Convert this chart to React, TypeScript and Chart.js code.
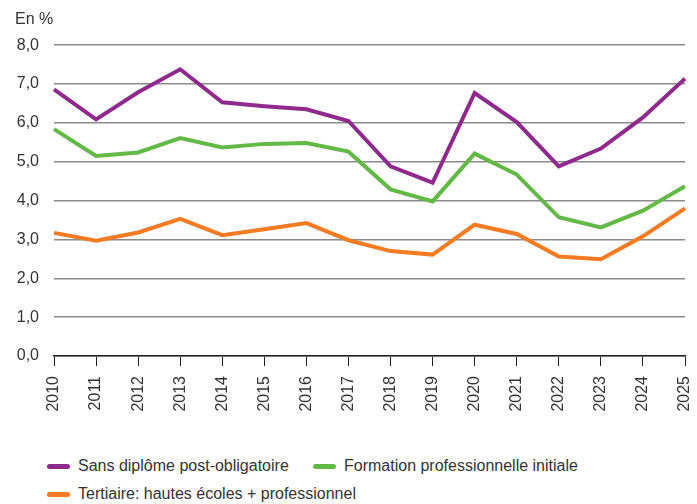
import React, { useEffect, useRef } from "react";
import { Chart, registerables } from "chart.js";

Chart.register(...registerables);

const years = ["2010","2011","2012","2013","2014","2015","2016","2017","2018","2019","2020","2021","2022","2023","2024","2025"];
const sansDiplome = [6.86, 6.09, 6.79, 7.38, 6.53, 6.43, 6.35, 6.05, 4.88, 4.46, 6.77, 6.02, 4.88, 5.34, 6.14, 7.14];
const formationPro = [5.84, 5.15, 5.24, 5.61, 5.37, 5.46, 5.48, 5.26, 4.29, 3.98, 5.21, 4.67, 3.57, 3.31, 3.74, 4.37];
const tertiaire = [3.17, 2.97, 3.18, 3.53, 3.11, 3.26, 3.42, 2.98, 2.70, 2.61, 3.38, 3.14, 2.56, 2.49, 3.08, 3.80];
const seriesLabels = ["Sans diplôme post-obligatoire", "Formation professionnelle initiale", "Tertiaire: hautes écoles + professionnel"];
const seriesColors = ["#8f2a8c", "#62b946", "#f47b21"];
const yTitle = "En %";

const FONT = "'Liberation Sans', Arial, sans-serif";

export default function App() {
  const ref = useRef<HTMLCanvasElement | null>(null);
  useEffect(() => {
    if (!ref.current) return;
    const data = [sansDiplome, formationPro, tertiaire];
    const chart = new Chart(ref.current, {
      type: "line",
      data: {
        labels: years,
        datasets: data.map((d, i) => ({
          label: seriesLabels[i],
          data: d,
          borderColor: seriesColors[i],
          backgroundColor: seriesColors[i],
          borderWidth: 4,
          pointRadius: 0,
          tension: 0,
          borderJoinStyle: "miter" as const,
        })),
      },
      options: {
        animation: false,
        responsive: false,
        maintainAspectRatio: false,
        layout: { padding: { left: 15, right: 12, top: 0, bottom: 0 } },
        plugins: {
          legend: { display: false },
          tooltip: { enabled: false },
          title: {
            display: true,
            text: yTitle,
            align: "start",
            color: "#333",
            font: { family: FONT, size: 16, weight: "normal" },
            padding: { top: 10, bottom: 16 },
          },
        },
        scales: {
          x: {
            offset: false,
            grid: { drawOnChartArea: false, drawTicks: true, tickLength: 10, color: "#222", lineWidth: 1 },
            border: { display: true, color: "#222", width: 1.5 },
            ticks: {
              color: "#333",
              font: { family: FONT, size: 16 },
              maxRotation: 90,
              minRotation: 90,
              padding: 10,
              autoSkip: false,
            },
            afterFit: (s: any) => { s.height = 74; s.paddingRight = 0; s.paddingLeft = 0; },
          },
          y: {
            min: 0,
            max: 8,
            grid: { color: "#8a8a8a", lineWidth: 1.5, drawTicks: false },
            border: { display: false },
            ticks: {
              stepSize: 1,
              color: "#333",
              padding: 15,
              font: { family: FONT, size: 16 },
              callback: (v: any) => Number(v).toFixed(1).replace(".", ","),
            },
            afterFit: (s: any) => { s.width = 39; },
          },
        },
      },
    });
    return () => chart.destroy();
  }, []);

  const legendItem = (i: number) => (
    <div style={{ display: "flex", alignItems: "center", height: 20 }}>
      <span style={{ display: "inline-block", width: 23, height: 5, borderRadius: 2.5, background: seriesColors[i], marginRight: 8 }} />
      <span style={{ whiteSpace: "nowrap" }}>{seriesLabels[i]}</span>
    </div>
  );

  return (
    <div style={{ position: "absolute", left: 0, top: 0, width: 697, height: 504, background: "#fff", fontFamily: FONT, color: "#333", fontSize: 16, lineHeight: "20px" }}>
      <canvas ref={ref} width={697} height={430} style={{ display: "block" }} />
      <div style={{ position: "absolute", left: 47, top: 456 }}>{legendItem(0)}</div>
      <div style={{ position: "absolute", left: 313, top: 456 }}>{legendItem(1)}</div>
      <div style={{ position: "absolute", left: 47, top: 484 }}>{legendItem(2)}</div>
    </div>
  );
}
